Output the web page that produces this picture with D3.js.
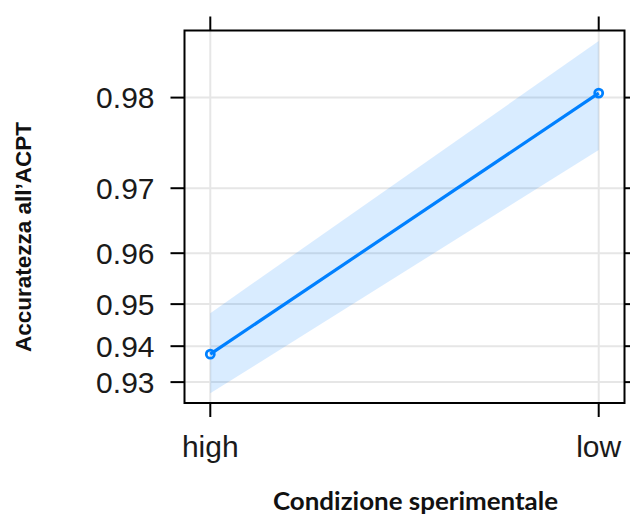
<!DOCTYPE html>
<html>
<head>
<meta charset="utf-8">
<script src="https://cdn.jsdelivr.net/npm/d3@7"></script>
<style>
  html, body { margin: 0; padding: 0; background: #ffffff; }
  svg { display: block; }
</style>
</head>
<body>
<svg id="chart" width="630" height="517"></svg>
<script>
// ---- data ----
const categories = ["high", "low"];
const fitValues = [0.9379, 0.9804];
const lowerValues = [0.9266, 0.9747];
const upperValues = [0.9480, 0.9845];
const yTicks = [0.93, 0.94, 0.95, 0.96, 0.97, 0.98];
const yLimits = [0.9235, 0.98522];
const xTitle = "Condizione sperimentale";
const yTitle = "Accuratezza all\u2019ACPT";

// ---- layout ----
const W = 630, H = 517;
const plot = { left: 184.5, top: 30.5, right: 624.5, bottom: 403 };
const svg = d3.select("#chart");

const logit = p => Math.log(p / (1 - p));
const yLin = d3.scaleLinear()
  .domain([logit(yLimits[0]), logit(yLimits[1])])
  .range([plot.bottom, plot.top]);
const y = p => yLin(logit(p));

const x = d3.scalePoint()
  .domain(categories)
  .range([plot.left, plot.right])
  .padding(0.0664);

const data = categories.map((c, i) => ({ c, fit: fitValues[i], lo: lowerValues[i], hi: upperValues[i] }));

// gridlines
const grid = svg.append("g");
grid.selectAll("line.h").data(yTicks).enter().append("line")
  .attr("x1", plot.left).attr("x2", plot.right)
  .attr("y1", d => y(d)).attr("y2", d => y(d))
  .attr("stroke", "#e6e6e6").attr("stroke-width", 2);
grid.selectAll("line.v").data(categories).enter().append("line")
  .attr("x1", d => x(d)).attr("x2", d => x(d))
  .attr("y1", plot.top).attr("y2", plot.bottom)
  .attr("stroke", "#e6e6e6").attr("stroke-width", 2);

// confidence band
const area = d3.area()
  .x(d => x(d.c))
  .y0(d => y(d.lo))
  .y1(d => y(d.hi));
svg.append("path").datum(data)
  .attr("d", area)
  .attr("fill", "#0080ff")
  .attr("fill-opacity", 0.15);

// fit line
const line = d3.line().x(d => x(d.c)).y(d => y(d.fit));
svg.append("path").datum(data)
  .attr("d", line)
  .attr("fill", "none")
  .attr("stroke", "#0080ff")
  .attr("stroke-width", 3.2);

svg.selectAll("circle.pt").data(data).enter().append("circle")
  .attr("cx", d => x(d.c)).attr("cy", d => y(d.fit))
  .attr("r", 4)
  .attr("fill", "none")
  .attr("stroke", "#0080ff")
  .attr("stroke-width", 2.8);

// frame
svg.append("rect")
  .attr("x", plot.left).attr("y", plot.top)
  .attr("width", plot.right - plot.left).attr("height", plot.bottom - plot.top)
  .attr("fill", "none").attr("stroke", "#000").attr("stroke-width", 2);

// ticks
const tickLen = 14;
const axes = svg.append("g").attr("stroke", "#000").attr("stroke-width", 2);
axes.selectAll("line.l").data(yTicks).enter().append("line")
  .attr("x1", plot.left - tickLen).attr("x2", plot.left)
  .attr("y1", d => y(d)).attr("y2", d => y(d));
axes.selectAll("line.r").data(yTicks).enter().append("line")
  .attr("x1", plot.right).attr("x2", plot.right + tickLen)
  .attr("y1", d => y(d)).attr("y2", d => y(d));
axes.selectAll("line.b").data(categories).enter().append("line")
  .attr("x1", d => x(d)).attr("x2", d => x(d))
  .attr("y1", plot.bottom).attr("y2", plot.bottom + tickLen);
axes.selectAll("line.t").data(categories).enter().append("line")
  .attr("x1", d => x(d)).attr("x2", d => x(d))
  .attr("y1", plot.top - tickLen).attr("y2", plot.top);

// tick labels
const tickFont = "'Liberation Sans', Arial, sans-serif";
svg.selectAll("text.yl").data(yTicks).enter().append("text")
  .attr("x", plot.left - tickLen - 16)
  .attr("y", d => y(d))
  .attr("dy", "0.35em")
  .attr("text-anchor", "end")
  .attr("font-family", tickFont)
  .attr("font-size", 30)
  .attr("fill", "#1a1a1a")
  .text(d => d.toFixed(2));

svg.selectAll("text.xl").data(categories).enter().append("text")
  .attr("x", d => x(d))
  .attr("y", 457)
  .attr("text-anchor", "middle")
  .attr("font-family", tickFont)
  .attr("font-size", 30)
  .attr("fill", "#1a1a1a")
  .text(d => d);

// axis titles
svg.append("text")
  .attr("x", 415.5).attr("y", 510)
  .attr("text-anchor", "middle")
  .attr("font-family", "Lato, 'Open Sans', sans-serif")
  .attr("font-weight", "bold")
  .attr("font-size", 24)
  .attr("textLength", 285)
  .attr("lengthAdjust", "spacingAndGlyphs")
  .attr("fill", "#111")
  .text(xTitle);

svg.append("text")
  .attr("transform", "translate(31,237) rotate(-90)")
  .attr("text-anchor", "middle")
  .attr("font-family", tickFont)
  .attr("font-weight", "bold")
  .attr("font-size", 22)
  .attr("textLength", 230)
  .attr("lengthAdjust", "spacingAndGlyphs")
  .attr("fill", "#111")
  .text(yTitle);
</script>
</body>
</html>
